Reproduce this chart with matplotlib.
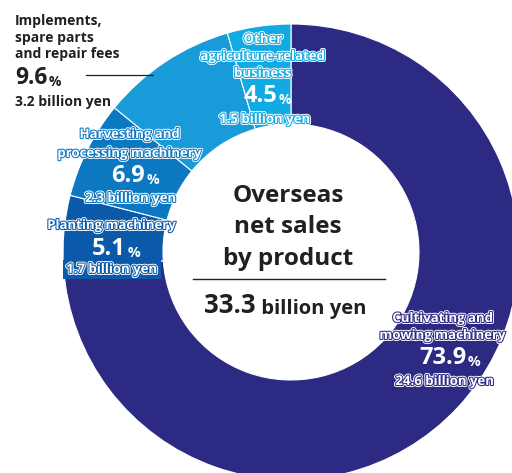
import matplotlib
matplotlib.use("Agg")
import matplotlib.pyplot as plt
import matplotlib.patheffects as pe
from matplotlib.patches import Wedge

W, H = 512, 473
plt.rcParams["font.family"] = ["Open Sans", "DejaVu Sans"]

# overseas net sales by product (clockwise from 12 o'clock)
segments = [
    ["Cultivating and", "mowing machinery"],
    ["Planting machinery"],
    ["Harvesting and", "processing machinery"],
    ["Implements,", "spare parts", "and repair fees"],
    ["Other", "agriculture-related", "business"],
]
shares = [73.9, 5.1, 6.9, 9.6, 4.5]
amounts = [24.6, 1.7, 2.3, 3.2, 1.5]
total = 33.3
title_lines = ["Overseas", "net sales", "by product"]

colors = ["#2d2a84", "#0b5aa9", "#0b78c1", "#1a9bd9", "#12aae2"]
DARK = "#231f20"

# ring geometry in pixels (y measured from the top)
CX, CY = 291, 252
R_OUT, R_IN = 228, 128

# label layout: x of name lines, name baselines, number x / baseline, amount x / baseline
layout = [
    dict(x=443, names=[322, 339], num=(443, 364), amt=(445, 385)),
    dict(x=112, names=[229], num=(109, 255), amt=(112, 273)),
    dict(x=130, names=[138, 157], num=(128, 182), amt=(131, 202)),
    dict(x=15, names=[25, 42, 58], num=(15, 84), amt=(15, 106)),
    dict(x=263, names=[43, 60, 77], num=(260, 102), amt=(265, 123)),
]


def Y(y):
    return H - y


fig = plt.figure(figsize=(W / 100, H / 100), dpi=100)
ax = fig.add_axes([0, 0, 1, 1])

wedges, _ = ax.pie(shares, colors=colors, startangle=90, counterclock=False,
                   center=(CX, Y(CY)), radius=R_OUT, frame=True,
                   wedgeprops=dict(width=R_OUT - R_IN, edgecolor="white", linewidth=0.8))

ring = Wedge((CX, Y(CY)), R_OUT, 0, 360, width=R_OUT - R_IN)
ring.set_transform(ax.transData)


def outlined(color):
    return [pe.Stroke(linewidth=2.8, foreground="white"),
            pe.Stroke(linewidth=1.5, foreground=color),
            pe.Normal()]


def add_pct(x, y, value, color, size, ha):
    num = ax.text(x, Y(y), f"{value}", color=color, fontsize=size,
                  fontweight="bold", ha=ha, va="baseline")
    ax.annotate("%", xy=(1, 0), xycoords=num, xytext=(1, 1),
                textcoords="offset points", color=color, fontsize=size * 0.6,
                fontweight="bold", ha="left", va="bottom")
    return num


for i, lab in enumerate(layout):
    if i == 3:
        # implements label sits outside the ring, in dark text
        for line, yb in zip(segments[i], lab["names"]):
            ax.text(lab["x"], Y(yb), line, color=DARK, fontsize=10,
                    fontweight="bold", ha="left", va="baseline")
        add_pct(lab["num"][0], lab["num"][1], shares[i], DARK, 16.5, "left")
        ax.text(lab["amt"][0], Y(lab["amt"][1]), f"{amounts[i]} billion yen",
                color=DARK, fontsize=10, fontweight="bold", ha="left", va="baseline")
        ax.plot([86, 153], [Y(75), Y(75)], color=DARK, linewidth=0.9)
        continue

    for line, yb in zip(segments[i], lab["names"]):
        ax.text(lab["x"], Y(yb), line, color="white", fontsize=9.5,
                fontweight="bold", ha="center", va="baseline",
                path_effects=outlined(colors[i]))
    add_pct(lab["num"][0], lab["num"][1], shares[i], "white", 17, "center")
    amt = ax.text(lab["amt"][0], Y(lab["amt"][1]), f"{amounts[i]} billion yen",
                  color="white", fontsize=9.5, fontweight="bold", ha="center",
                  va="baseline", path_effects=outlined(colors[i]))
    if i == 1:
        amt.set_bbox(dict(facecolor=colors[i], edgecolor="none", pad=2.5))
        amt.get_bbox_patch().set_clip_path(ring)

# centre caption
for line, yb in zip(title_lines, [202, 233, 265]):
    ax.text(288, Y(yb), line, color=DARK, fontsize=17.5, fontweight="bold",
            ha="center", va="baseline")
ax.plot([193, 385], [Y(279), Y(279)], color=DARK, linewidth=1.0)
tot = ax.text(256, Y(313), f"{total}", color=DARK, fontsize=18.5,
              fontweight="bold", ha="right", va="baseline")
ax.annotate(" billion yen", xy=(1, 0), xycoords=tot, color=DARK, fontsize=14.5,
            fontweight="bold", ha="left", va="bottom")

ax.set_xlim(0, W)
ax.set_ylim(0, H)
ax.set_aspect("equal")
ax.axis("off")

fig.savefig("out.png", dpi=100, facecolor="white")
